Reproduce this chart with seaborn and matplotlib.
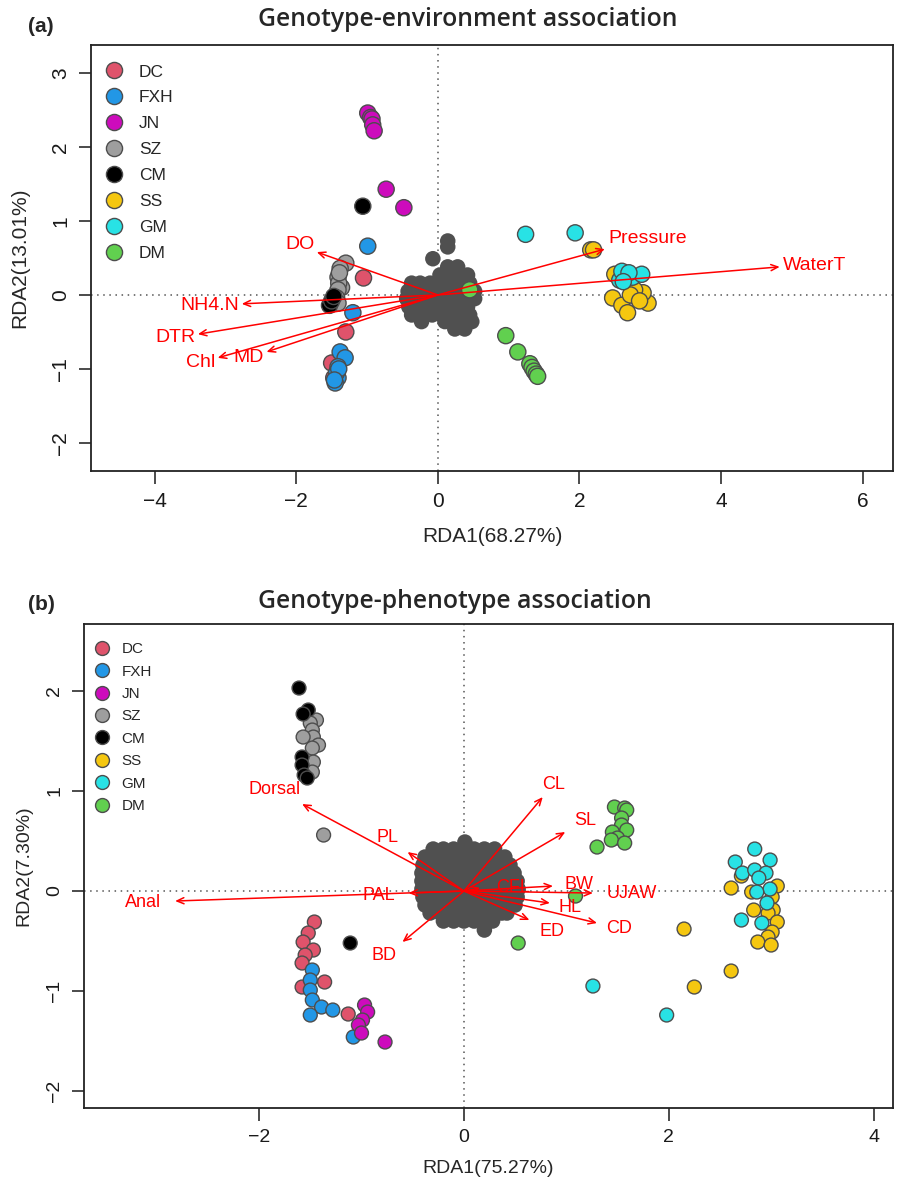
import numpy as np
import pandas as pd
import seaborn as sns
import matplotlib.pyplot as plt

sns.set_style("white")
plt.rcParams['font.family'] = ['Liberation Sans', 'DejaVu Sans']

# groups and colours (R default palette)
groups = ["DC", "FXH", "JN", "SZ", "CM", "SS", "GM", "DM"]
group_colors = ["#DF536B", "#2297E6", "#CD0BBC", "#9E9E9E", "#000000", "#F5C710", "#28E2E5", "#61D04F"]
palette = dict(zip(groups, group_colors))

# ---------------- panel (a): genotype-environment ----------------
a_x = {
    "DC": [-1.05, -1.30, -1.50, -1.47],
    "FXH": [-0.99, -1.20, -1.38, -1.31, -1.41, -1.41, -1.45, -1.43, -1.40, -1.46],
    "JN": [-0.99, -0.95, -0.93, -0.92, -0.90, -0.73, -0.48],
    "SZ": [-1.36, -1.30, -1.38, -1.41, -1.40, -1.41, -1.43, -1.41, -1.39],
    "CM": [-1.06, -1.53, -1.50, -1.47],
    "SS": [2.16, 2.20, 2.47, 2.60, 2.68, 2.82, 2.97, 2.90, 2.78, 2.72, 2.85, 2.50],
    "GM": [1.24, 1.94, 2.57, 2.60, 2.75, 2.88, 2.70, 2.62],
    "DM": [0.45, 0.96, 1.13, 1.30, 1.33, 1.36, 1.39, 1.41],
}
a_y = {
    "DC": [0.23, -0.50, -0.92, -1.12],
    "FXH": [0.66, -0.24, -0.77, -0.85, -0.97, -1.12, -1.19, -1.05, -1.00, -1.15],
    "JN": [2.46, 2.40, 2.38, 2.30, 2.22, 1.43, 1.18],
    "SZ": [0.10, 0.43, 0.36, 0.24, 0.16, 0.07, -0.04, -0.11, 0.30],
    "CM": [1.20, -0.14, -0.08, -0.02],
    "SS": [0.61, 0.61, -0.04, -0.14, -0.24, -0.04, -0.11, 0.03, 0.07, 0.00, -0.08, 0.28],
    "GM": [0.82, 0.84, 0.20, 0.32, 0.24, 0.28, 0.30, 0.18],
    "DM": [0.07, -0.55, -0.77, -0.93, -0.98, -1.03, -1.07, -1.10],
}

# SNP scores (dense grey cloud around the origin), row by row
blob_a_rows_y = [0.73, 0.65, 0.49, 0.38, 0.27, 0.16, 0.05, -0.05, -0.16, -0.27, -0.36, -0.46]
blob_a_rows_x = [
    [0.14],
    [0.14],
    [-0.07],
    [0.14, 0.28],
    [0.03, 0.17, 0.31, 0.42],
    [-0.37, -0.25, -0.11, 0.03, 0.17, 0.31, 0.45],
    [-0.42, -0.28, -0.14, 0.00, 0.14, 0.28, 0.42, 0.52],
    [-0.44, -0.30, -0.16, -0.01, 0.13, 0.27, 0.41, 0.52],
    [-0.41, -0.27, -0.13, 0.01, 0.16, 0.30, 0.42],
    [-0.37, -0.23, -0.08, 0.06, 0.20, 0.34, 0.45],
    [-0.23, 0.10, 0.24, 0.38, 0.48],
    [0.24, 0.38],
]

env_vars = ["DO", "NH4.N", "DTR", "Chl", "MD", "Pressure", "WaterT"]
env_x = [-1.71, -2.77, -3.39, -3.11, -2.42, 2.36, 4.83]
env_y = [0.58, -0.12, -0.53, -0.85, -0.77, 0.62, 0.38]
env_lab_x = [-1.95, -3.22, -3.71, -3.35, -2.67, 2.97, 5.32]
env_lab_y = [0.68, -0.14, -0.58, -0.91, -0.84, 0.77, 0.40]

# ---------------- panel (b): genotype-phenotype ----------------
b_x = {
    "DC": [-1.46, -1.52, -1.57, -1.47, -1.55, -1.58, -1.36, -1.58, -1.13],
    "FXH": [-1.48, -1.50, -1.50, -1.48, -1.39, -1.28, -1.50, -1.08],
    "JN": [-0.97, -0.94, -0.99, -1.03, -1.00, -0.77],
    "SZ": [-1.44, -1.50, -1.48, -1.47, -1.42, -1.48, -1.47, -1.48, -1.57, -1.37],
    "CM": [-1.61, -1.52, -1.57, -1.58, -1.58, -1.56, -1.53, -1.11],
    "SS": [2.61, 2.71, 3.06, 2.81, 3.01, 2.83, 3.02, 2.97, 3.06, 3.01, 2.97, 2.87, 3.00, 2.15, 2.61, 2.25],
    "GM": [2.84, 2.65, 2.99, 2.72, 2.84, 2.95, 2.88, 2.99, 2.86, 2.96, 2.71, 2.91, 1.26, 1.98],
    "DM": [1.47, 1.57, 1.59, 1.54, 1.54, 1.45, 1.59, 1.50, 1.44, 1.57, 1.30, 1.09, 0.53],
}
b_y = {
    "DC": [-0.31, -0.42, -0.51, -0.59, -0.64, -0.72, -0.91, -0.96, -1.23],
    "FXH": [-0.79, -0.89, -0.99, -1.09, -1.16, -1.19, -1.24, -1.46],
    "JN": [-1.14, -1.21, -1.29, -1.34, -1.42, -1.51],
    "SZ": [1.71, 1.68, 1.61, 1.54, 1.46, 1.43, 1.29, 1.19, 1.54, 0.56],
    "CM": [2.03, 1.81, 1.77, 1.34, 1.26, 1.16, 1.13, -0.52],
    "SS": [0.03, 0.15, 0.05, -0.01, -0.06, -0.19, -0.19, -0.22, -0.31, -0.41, -0.46, -0.51, -0.54, -0.38, -0.80, -0.96],
    "GM": [0.42, 0.29, 0.31, 0.18, 0.21, 0.18, 0.13, 0.02, -0.01, -0.12, -0.29, -0.32, -0.95, -1.24],
    "DM": [0.84, 0.83, 0.81, 0.73, 0.66, 0.59, 0.61, 0.53, 0.51, 0.48, 0.44, -0.05, -0.52],
}

blob_b_rows_y = [0.49, 0.42, 0.34, 0.26, 0.18, 0.10, 0.02, -0.06, -0.14, -0.22, -0.30, -0.39]
blob_b_rows_x = [
    [0.01],
    [-0.30, -0.20, -0.10, 0.00, 0.10, 0.20, 0.30],
    [-0.38, -0.28, -0.18, -0.08, 0.02, 0.12, 0.22, 0.32, 0.40],
    [-0.40, -0.30, -0.20, -0.10, 0.00, 0.10, 0.20, 0.30, 0.40, 0.45],
    [-0.41, -0.31, -0.21, -0.11, -0.01, 0.09, 0.19, 0.29, 0.39, 0.49],
    [-0.41, -0.31, -0.21, -0.11, -0.01, 0.09, 0.19, 0.29, 0.39, 0.49, 0.52],
    [-0.41, -0.31, -0.21, -0.11, -0.01, 0.09, 0.19, 0.29, 0.39, 0.49, 0.53],
    [-0.40, -0.30, -0.20, -0.10, 0.00, 0.10, 0.20, 0.30, 0.40, 0.52],
    [-0.38, -0.28, -0.18, -0.08, 0.02, 0.12, 0.22, 0.32, 0.42, 0.50],
    [-0.33, -0.23, -0.13, -0.03, 0.07, 0.17, 0.27, 0.37, 0.42],
    [-0.20, -0.10, 0.00, 0.10, 0.20, 0.28],
    [0.20],
]

traits = ["CL", "SL", "BW", "UJAW", "HL", "CD", "ED", "CFL", "PL", "Dorsal", "PAL", "Anal", "BD"]
trait_x = [0.77, 0.99, 0.87, 1.26, 0.84, 1.30, 0.64, 0.16, -0.55, -1.58, -0.54, -2.82, -0.60]
trait_y = [0.94, 0.59, 0.05, -0.02, -0.12, -0.32, -0.29, 0.03, 0.39, 0.87, -0.02, -0.10, -0.51]
trait_lab_x = [0.88, 1.18, 1.12, 1.64, 1.04, 1.52, 0.86, 0.48, -0.75, -1.85, -0.83, -3.13, -0.78]
trait_lab_y = [1.07, 0.71, 0.07, -0.02, -0.16, -0.37, -0.40, 0.04, 0.54, 1.02, -0.04, -0.11, -0.64]


def scores_frame(xs, ys):
    rows = []
    for g in groups:
        for x, y in zip(xs[g], ys[g]):
            rows.append((g, x, y))
    return pd.DataFrame(rows, columns=["pop", "RDA1", "RDA2"])


def blob_frame(rows_y, rows_x):
    pts = [(x, y) for y, xs in zip(rows_y, rows_x) for x in xs]
    return pd.DataFrame(pts, columns=["RDA1", "RDA2"])


def draw_panel(ax, df, blob, arr_names, arr_x, arr_y, lab_x, lab_y, pt_size, lab_fs, tick_fs,
               leg_fs, leg_kw):
    ax.axhline(0, color="#555555", lw=1.1, ls=(0, (1, 3)), zorder=1)
    ax.axvline(0, color="#555555", lw=1.1, ls=(0, (1, 3)), zorder=1)
    sns.scatterplot(data=blob, x="RDA1", y="RDA2", ax=ax, color="#505050", s=125,
                    edgecolor="none", linewidth=0, legend=False, zorder=2)
    sns.scatterplot(data=df, x="RDA1", y="RDA2", hue="pop", hue_order=groups, palette=palette,
                    ax=ax, s=pt_size, edgecolor="#4D4D4D", linewidth=1.0, zorder=3)
    for name, hx, hy, tx, ty in zip(arr_names, arr_x, arr_y, lab_x, lab_y):
        ax.annotate("", xy=(hx, hy), xytext=(0, 0),
                    arrowprops=dict(arrowstyle="->,head_length=0.5,head_width=0.22",
                                    color="red", lw=1.1, shrinkA=0, shrinkB=0), zorder=4)
        ax.text(tx, ty, name, color="red", fontsize=lab_fs, ha="center", va="center", zorder=5)

    handles, labels = ax.get_legend_handles_labels()
    for h in handles:
        h.set_markersize(np.sqrt(pt_size))
        h.set_markeredgecolor("#4D4D4D")
    ax.legend(handles, labels, loc="upper left", bbox_to_anchor=(0, leg_kw[3]), frameon=False,
              fontsize=leg_fs, handletextpad=leg_kw[0], labelspacing=leg_kw[1],
              borderaxespad=leg_kw[2], borderpad=0.3, handlelength=1.2)

    ax.tick_params(axis="both", direction="out", length=9, width=1.1, labelsize=tick_fs,
                   bottom=True, left=True, pad=6, colors="#1a1a1a")
    for lab in ax.get_yticklabels():
        lab.set_rotation(90)
        lab.set_va("center")
    for sp in ax.spines.values():
        sp.set_linewidth(1.3)
        sp.set_color("#222222")


fig = plt.figure(figsize=(8.99, 11.81), dpi=100)

ax_a = fig.add_axes([0.1012, 0.6012, 0.8921, 0.3607])
ax_a.set_xlim(-4.9, 6.43)
ax_a.set_ylim(-2.38, 3.38)
ax_a.set_xticks([-4, -2, 0, 2, 4, 6])
ax_a.set_yticks([-2, -1, 0, 1, 2, 3])
draw_panel(ax_a, scores_frame(a_x, a_y), blob_frame(blob_a_rows_y, blob_a_rows_x),
           env_vars, env_x, env_y, env_lab_x, env_lab_y,
           pt_size=135, lab_fs=14, tick_fs=15, leg_fs=12.5, leg_kw=(0.8, 0.62, 0.45, 0.985))
ax_a.set_xlabel("RDA1(68.27%)", fontsize=15, labelpad=12)
ax_a.set_ylabel("RDA2(13.01%)", fontsize=15, labelpad=16)

ax_b = fig.add_axes([0.0934, 0.0618, 0.8999, 0.4098])
ax_b.set_xlim(-3.71, 4.19)
ax_b.set_ylim(-2.17, 2.67)
ax_b.set_xticks([-2, 0, 2, 4])
ax_b.set_yticks([-2, -1, 0, 1, 2])
draw_panel(ax_b, scores_frame(b_x, b_y), blob_frame(blob_b_rows_y, blob_b_rows_x),
           traits, trait_x, trait_y, trait_lab_x, trait_lab_y,
           pt_size=100, lab_fs=13, tick_fs=14, leg_fs=11, leg_kw=(0.7, 0.55, 0.25, 0.98))
ax_b.set_xlabel("RDA1(75.27%)", fontsize=14, labelpad=10)
ax_b.set_ylabel("RDA2(7.30%)", fontsize=14, labelpad=10)

# titles and panel tags
fig.text(468 / 899, 1 - 20 / 1181, "Genotype-environment association", ha="center", va="center",
         fontsize=17.8, fontweight="semibold", family=["Open Sans", "DejaVu Sans"])
fig.text(455 / 899, 1 - 601 / 1181, "Genotype-phenotype association", ha="center", va="center",
         fontsize=17.8, fontweight="semibold", family=["Open Sans", "DejaVu Sans"])
fig.text(41 / 899, 1 - 27 / 1181, "(a)", ha="center", va="center", fontsize=15, fontweight="bold")
fig.text(41 / 899, 1 - 605 / 1181, "(b)", ha="center", va="center", fontsize=15, fontweight="bold")

fig.savefig("out.png", dpi=100)
